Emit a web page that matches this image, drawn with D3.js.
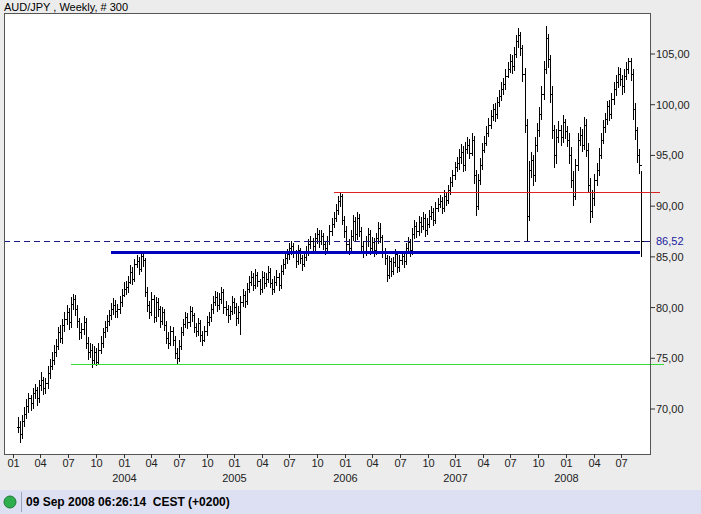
<!DOCTYPE html>
<html>
<head>
<meta charset="utf-8">
<script src="https://cdn.jsdelivr.net/npm/d3@7"></script>
<style>
  body { margin: 0; background: #ececec; }
  svg { display: block; font-family: "Liberation Sans", Arial, sans-serif; }
</style>
</head>
<body>
<div id="chart"></div>
<script>
// weekly bars, 2003 .. Sep 2008 (one row per month)
const weeklyClose = [
  68.2,67.5,68.8,69.5, 70.2,71.0,70.5,71.5, 71.8,71.0,72.3,72.8,72.0, 72.5,73.5,74.2,74.8, 75.6,76.2,77.5,77.0, 78.2,78.8,79.5,78.5,80.3,
  80.8,79.8,78.6,77.5, 77.8,78.5,76.5,75.6, 75.8,74.8,75.6,74.6,75.8, 76.5,77.5,78.0,78.6, 79.2,79.8,80.2,79.6, 79.8,80.5,81.2,81.8,82.0,
  82.5,83.5,82.8,84.2, 84.5,83.8,85.0,84.6, 81.5,80.2,79.5,80.8,79.0, 80.5,79.8,78.6,79.5, 78.2,77.0,76.5,77.6, 76.8,75.5,75.0,76.2,77.5,
  78.3,79.0,78.5,79.6, 79.2,78.0,77.6,78.4, 77.2,76.8,77.6,78.5,79.0, 79.8,80.5,81.0,80.2, 80.8,81.5,80.0,79.8, 79.2,79.6,80.5,80.0,78.9,
  79.5,80.5,81.2,80.6, 81.8,82.5,83.0,82.2, 83.2,82.6,81.8,83.0,82.4, 82.8,83.5,82.4,81.8, 82.5,83.0,82.2,83.6, 84.2,84.8,85.2,85.8,86.0,
  85.4,84.5,85.6,84.8, 84.2,84.9,85.5,86.2, 86.5,86.0,86.8,87.2,86.5, 87.0,86.2,85.8,86.5, 87.5,88.2,88.8,89.6, 90.5,91.0,88.6,87.5,86.2,
  85.8,87.0,88.5,87.2, 88.8,87.5,86.0,85.5, 86.5,87.2,85.8,86.4,85.6, 86.8,87.8,86.9,85.5, 84.8,83.2,84.5,83.6, 84.4,85.2,84.0,84.6,85.0,
  84.5,85.8,86.4,85.6, 87.2,88.0,87.5,88.4, 88.0,88.8,87.6,88.2,89.0, 89.4,88.6,89.8,90.2, 90.5,89.8,91.0,90.6, 91.5,92.3,93.0,93.8,94.2,
  94.8,95.3,94.0,95.6, 96.0,95.2,96.5,93.0, 90.0,92.5,94.0,95.5,96.2, 97.2,98.0,98.8,99.5, 99.0,100.2,100.8,101.5, 102.0,102.8,103.5,104.3,103.8,
  105.0,106.2,106.8,105.5, 103.0,98.0,89.0,93.5, 94.5,93.0,96.0,97.5,99.0, 101.0,103.5,106.5,104.5, 101.0,97.5,95.0,96.8, 97.5,96.8,98.2,97.4,96.5,
  95.0,92.5,91.0,94.0, 96.5,97.0,96.0,98.0, 95.5,92.0,89.5,90.8,92.5, 93.5,95.0,96.5,97.8, 98.5,99.8,99.0,100.5, 101.5,102.2,103.0,102.5,101.8,
  102.8,103.5,104.3,103.0, 99.5,97.5,95.0,94.0, 86.5
];
const weeklyHigh = [
  69.2,68.8,69.4,70.2, 71.0,71.6,71.4,72.1, 72.5,72.2,72.9,73.6,73.2, 73.1,74.2,74.9,75.6, 76.3,76.9,78.1,78.3, 78.9,79.6,80.3,80.0,81.0,
  81.3,81.2,80.3,79.0, 78.5,79.2,79.0,77.1, 76.5,76.4,76.2,76.0,76.5, 77.2,78.0,78.7,79.3, 79.8,80.5,80.9,80.7, 80.4,81.1,81.8,82.5,82.6,
  83.1,84.2,84.0,84.8, 85.2,85.0,85.6,85.5, 84.9,82.0,80.6,81.5,81.2, 81.0,80.9,80.2,80.1, 79.9,78.7,77.6,78.2, 78.1,77.2,76.0,76.8,78.1,
  78.9,79.6,79.5,80.2, 80.1,79.5,78.5,79.0, 78.8,77.7,78.2,79.2,79.6, 80.4,81.1,81.6,81.5, 81.4,82.0,81.8,80.6, 80.3,80.2,81.1,80.9,80.5,
  80.2,81.1,81.8,81.6, 82.4,83.1,83.6,83.4, 83.8,83.5,82.8,83.6,83.5, 83.4,84.1,83.9,82.8, 83.1,83.7,83.4,84.2, 84.8,85.4,85.8,86.4,86.6,
  86.4,85.7,86.2,85.9, 85.2,85.5,86.1,86.8, 87.1,86.9,87.4,87.8,87.6, 87.6,87.4,86.6,87.1, 88.1,88.8,89.4,90.2, 91.0,91.3,91.2,89.0,88.0,
  86.8,87.6,89.1,88.9, 89.4,89.2,87.9,86.6, 87.1,87.8,87.6,87.0,86.9, 87.4,88.4,88.3,87.2, 85.9,85.2,85.1,84.9, 85.0,85.8,85.5,85.2,85.6,
  85.4,86.4,87.0,86.8, 87.8,88.6,88.4,89.0, 88.9,89.4,89.2,88.8,89.6, 90.0,89.8,90.4,90.8, 91.1,90.9,91.6,91.4, 92.1,92.9,93.6,94.4,94.8,
  95.6,96.1,95.9,96.3, 96.8,96.6,97.2,96.9, 93.6,93.2,94.7,96.2,96.9, 97.9,98.7,99.5,100.1, 100.2,100.8,101.5,102.2, 102.6,103.5,104.2,105.0,104.9,
  105.7,106.9,107.6,107.2, 105.9,103.6,98.6,94.5, 95.3,95.0,96.8,98.2,99.8, 101.8,104.3,107.8,107.0, 104.9,101.8,98.0,97.6, 98.4,98.0,99.0,98.6,97.9,
  97.2,95.8,93.5,94.6, 97.2,97.8,97.6,98.8, 98.6,96.2,92.8,91.6,93.2, 94.3,95.7,97.2,98.5, 99.2,100.4,100.5,101.2, 102.2,102.9,103.7,103.6,102.9,
  103.5,104.2,104.6,104.6, 103.5,100.2,97.8,95.6, 93.5
];
const weeklyLow = [
  67.6,66.6,67.0,68.2, 69.0,69.6,69.8,70.0, 71.0,70.3,70.6,71.8,71.4, 71.5,72.0,73.0,73.8, 74.3,75.1,75.8,76.5, 76.4,77.6,78.3,77.8,78.0,
  79.8,79.2,78.0,76.8, 76.9,77.3,75.9,74.8, 75.0,74.0,74.3,74.2,74.4, 75.4,76.0,77.0,77.6, 78.2,78.8,79.3,79.0, 79.0,79.4,80.1,81.0,81.2,
  81.4,82.3,82.2,82.5, 83.9,83.2,83.5,84.0, 81.0,79.6,78.9,79.2,78.5, 78.6,79.1,78.0,78.3, 77.7,76.4,75.9,76.2, 76.2,74.9,74.4,74.6,75.8,
  77.2,78.0,77.9,78.1, 78.6,77.5,77.1,77.2, 76.6,76.2,76.6,77.2,78.2, 78.6,79.4,80.2,79.6, 79.8,80.4,79.4,79.2, 78.5,78.8,79.3,79.4,78.2,
  78.4,77.3,80.1,80.0, 80.3,81.4,82.1,81.6, 81.8,82.0,81.2,81.4,81.8, 82.0,82.4,81.9,81.2, 81.4,82.1,81.6,81.8, 83.2,83.8,84.3,84.7,85.2,
  84.9,83.9,84.2,84.3, 83.6,84.0,84.6,85.1, 85.8,85.5,85.6,86.3,85.9, 86.2,85.7,85.2,85.3, 86.2,87.1,87.8,88.4, 89.1,89.9,88.1,86.9,85.6,
  85.2,85.3,86.6,86.6, 86.7,87.0,85.4,84.9, 85.1,86.0,85.2,85.3,85.0, 85.2,86.3,86.4,84.9, 84.2,82.5,82.8,83.0, 83.2,84.0,83.4,83.5,84.2,
  83.9,84.2,85.4,85.0, 85.2,86.8,86.9,87.1, 87.4,87.6,87.0,87.2,87.8, 88.6,88.0,88.2,89.4, 89.8,89.2,89.4,90.0, 90.2,91.1,91.9,92.6,93.4,
  93.6,94.2,93.4,93.5, 95.1,94.6,94.9,92.2, 89.0,89.6,92.1,93.6,95.2, 95.9,96.8,97.6,98.4, 98.3,98.6,99.8,100.4, 101.0,101.5,102.6,103.1,103.0,
  103.3,104.6,105.6,104.8, 102.2,97.2,86.5,88.5, 92.8,92.0,92.4,95.3,96.8, 98.5,100.5,103.0,103.6, 100.2,96.6,93.8,94.2, 96.2,95.9,96.2,96.6,95.8,
  94.2,91.8,90.0,90.6, 93.5,95.9,95.3,95.5, 94.8,91.4,88.3,88.8,90.0, 92.0,93.0,94.6,96.1, 97.2,98.0,98.4,98.6, 100.0,100.9,101.6,101.8,101.0,
  101.2,102.4,103.0,102.3, 98.5,96.5,94.3,93.2, 85.0
];
const lastBarDate = new Date(2008, 8, 5);
const yTicks = [70, 75, 80, 85, 90, 95, 100, 105];
const lastPrice = 86.52;

// drawn trend lines: [start date, end date, level]
const supportBlue = [new Date(2003, 10, 20), new Date(2008, 8, 1), 85.45];
const resistRed = [new Date(2005, 10, 25), new Date(2008, 10, 5), 91.3];
const supportGreen = [new Date(2003, 6, 10), new Date(2008, 10, 20), 74.4];

const W = 701, H = 514;
const pLeft = 4, pRight = 650, pTop = 13, pBottom = 454;

const svg = d3.select("#chart").append("svg")
    .attr("width", W)
    .attr("height", H);

svg.append("rect")
    .attr("x", 0).attr("y", 0).attr("width", W).attr("height", H)
    .attr("fill", "#ececec");

svg.append("rect")
    .attr("x", pLeft).attr("y", pTop)
    .attr("width", pRight - pLeft).attr("height", pBottom - pTop)
    .attr("fill", "white");

svg.append("text")
    .attr("x", 4).attr("y", 11)
    .style("font-size", "11px")
    .text("AUD/JPY , Weekly, # 300");

let x = d3.scaleTime()
    .domain([new Date(2003, 0, 1), new Date(2008, 0, 1)])
    .range([13, 566]);

let y = d3.scaleLinear()
    .domain([70, 105])
    .range([409, 54]);

let n = weeklyClose.length;
let dates = weeklyClose.map((d, i) => d3.timeDay.offset(lastBarDate, -7 * (n - 1 - i)));

let plot = svg.append("g").attr("shape-rendering", "crispEdges");

// price bars
weeklyClose.forEach((c, i) => {
    let px = Math.round(x(dates[i])) + 0.5;
    let open = i > 0 ? weeklyClose[i - 1] : weeklyLow[i] + 0.6;
    plot.append("line")
        .attr("x1", px).attr("x2", px)
        .attr("y1", y(weeklyHigh[i])).attr("y2", y(weeklyLow[i]))
        .attr("stroke", "black").attr("stroke-width", 1);
    plot.append("line")
        .attr("x1", px - 2).attr("x2", px)
        .attr("y1", y(open)).attr("y2", y(open))
        .attr("stroke", "black");
    plot.append("line")
        .attr("x1", px).attr("x2", px + 2)
        .attr("y1", y(c)).attr("y2", y(c))
        .attr("stroke", "black");
});

function hline(def, color, w) {
    plot.append("line")
        .attr("x1", Math.max(pLeft, x(def[0]))).attr("x2", Math.min(W - 31, x(def[1])))
        .attr("y1", y(def[2])).attr("y2", y(def[2]))
        .attr("stroke", color).attr("stroke-width", w);
}
hline(supportGreen, "#33dd33", 1);
hline(resistRed, "#dd2222", 1);
hline(supportBlue, "#0000bb", 2.5);

plot.append("line")
    .attr("x1", pLeft).attr("x2", pRight)
    .attr("y1", y(lastPrice)).attr("y2", y(lastPrice))
    .attr("stroke", "#1a1a80").attr("stroke-dasharray", "6,4");

// frame
svg.append("rect")
    .attr("x", pLeft + 0.5).attr("y", pTop + 0.5)
    .attr("width", pRight - pLeft).attr("height", pBottom - pTop)
    .attr("fill", "none").attr("stroke", "#555");

// right axis
let fmt = v => d3.format(".2f")(v).replace(".", ",");
let yAxis = svg.append("g");
yTicks.forEach(v => {
    yAxis.append("line")
        .attr("x1", pRight).attr("x2", pRight + 5)
        .attr("y1", y(v)).attr("y2", y(v))
        .attr("stroke", "#333");
    yAxis.append("text")
        .attr("x", pRight + 6).attr("y", y(v) + 4)
        .style("font-size", "11px").attr("fill", "#222")
        .text(fmt(v));
});
yAxis.append("text")
    .attr("x", pRight + 6).attr("y", y(lastPrice) + 4)
    .style("font-size", "11px").attr("fill", "#1a1aa0")
    .text(fmt(lastPrice));

// bottom axis
let quarters = d3.timeMonth.every(3).range(new Date(2003, 0, 1), new Date(2008, 8, 1));
let xAxis = svg.append("g");
quarters.forEach(d => {
    let px = Math.round(x(d)) + 0.5;
    xAxis.append("line")
        .attr("x1", px).attr("x2", px)
        .attr("y1", pBottom).attr("y2", pBottom + 4)
        .attr("stroke", "#333");
    xAxis.append("text")
        .attr("x", px).attr("y", pBottom + 13)
        .attr("text-anchor", "middle")
        .style("font-size", "11px").attr("fill", "#222")
        .text(d3.timeFormat("%m")(d));
    if (d.getMonth() === 0 && d.getFullYear() > 2003) {
        xAxis.append("text")
            .attr("x", px).attr("y", pBottom + 28)
            .attr("text-anchor", "middle")
            .style("font-size", "11px").attr("fill", "#222")
            .text(d.getFullYear());
    }
});

// status bar
svg.append("rect")
    .attr("x", 0).attr("y", 490).attr("width", W).attr("height", 24)
    .attr("fill", "#dde0f2");
svg.append("line")
    .attr("x1", 21.5).attr("x2", 21.5).attr("y1", 492).attr("y2", 512)
    .attr("stroke", "#9aa6bb");
svg.append("circle")
    .attr("cx", 10).attr("cy", 502).attr("r", 6)
    .attr("fill", "#2fae4f").attr("stroke", "#1d7a35");
svg.append("text")
    .attr("x", 26).attr("y", 506)
    .style("font-size", "12px").style("font-weight", "bold")
    .style("white-space", "pre")
    .text("09 Sep 2008 06:26:14  CEST (+0200)");
</script>
</body>
</html>
